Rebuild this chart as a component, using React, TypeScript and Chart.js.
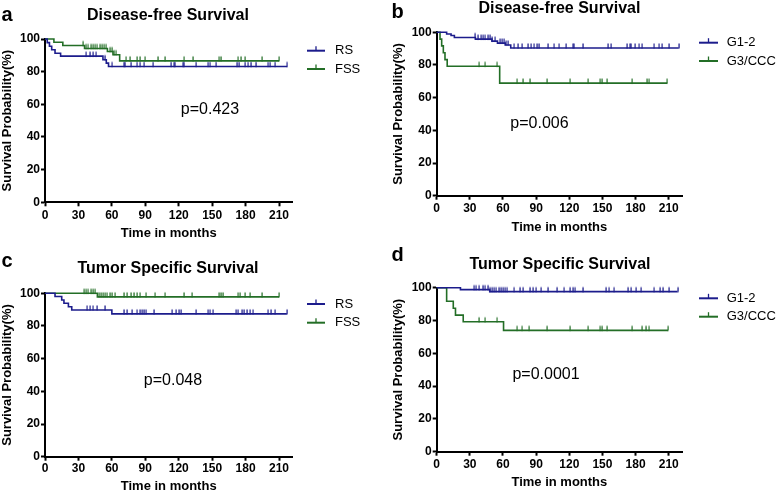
import React, { useEffect, useRef } from 'react';
import { Chart, registerables } from 'chart.js';

Chart.register(...registerables);

// ---------- axes ----------
const X_TICKS = [0, 30, 60, 90, 120, 150, 180, 210];
const Y_TICKS = [0, 20, 40, 60, 80, 100];
const X_MAX = 222;

// ---------- panel a : Disease-free survival, RS vs FSS ----------
const A_RS_TIME = [0, 2, 4, 6, 9, 14, 52, 55, 57];
const A_RS_SURV = [100, 97.8, 95.6, 93.4, 91.3, 89.5, 87.3, 85.2, 83.2];
const A_RS_CENS = [37, 40, 43, 46, 53.5, 60.5, 70.5, 72, 77, 83, 85.5, 89, 97, 113, 115.5, 117, 123.5, 125, 135.5, 146.5, 148.5, 153.5, 172, 174, 179.5, 182.5, 184.5, 189, 200.5, 202, 206.5, 217.5];
const A_FSS_TIME = [0, 8, 16, 35.5, 56, 61, 67];
const A_FSS_SURV = [100, 98, 96, 94.2, 92.3, 90.4, 86.6];
const A_FSS_CENS = [34, 37, 39, 41, 43, 45, 47, 49, 51, 53, 55, 58, 60, 62, 64, 73, 76, 82.5, 85, 90, 101, 107.5, 125, 132.5, 156.5, 157.5, 173.5, 175.5, 179.5, 194.5, 210];

// ---------- panel b : Disease-free survival, G1-2 vs G3/CCC ----------
const B_G12_TIME = [0, 9, 13, 16, 35, 50, 55, 62, 67];
const B_G12_SURV = [100, 99, 98, 96.8, 95.8, 94.6, 93.4, 92.2, 90.4];
const B_G12_CENS = [34.5, 37, 40, 42, 44, 46, 48, 50, 53, 57, 59, 61, 63, 64.5, 70.3, 73.3, 77.2, 82.3, 85.4, 88.4, 90.5, 92.3, 100.4, 106.5, 111, 117, 123, 124.6, 132, 154.8, 157.8, 172, 174.5, 176, 179.5, 183.4, 186, 197, 201.5, 204, 210, 219];
const B_G3_TIME = [0, 3, 4.5, 6, 7.5, 9.5, 57];
const B_G3_SURV = [100, 95.8, 91.7, 87.5, 83.3, 79.2, 68.9];
const B_G3_CENS = [38.5, 44, 55, 73, 77.8, 84, 99.7, 120.7, 137, 147.8, 149.3, 154, 176.7, 190, 192.5, 208.7];

// ---------- panel c : Tumor specific survival, RS vs FSS ----------
const C_RS_TIME = [0, 9, 15, 17, 21, 24, 60];
const C_RS_SURV = [100, 98, 95.9, 93.9, 91.8, 89.8, 87.4];
const C_RS_CENS = [38, 40.5, 43.5, 46.5, 53.5, 70.5, 73.5, 78, 83, 85, 87, 88.5, 91, 97.5, 114, 117.5, 120, 122, 135.5, 146.5, 148.5, 151, 171.5, 173.5, 176.5, 178.5, 181, 184, 187, 200.5, 202.5, 206.5, 217];
const C_FSS_TIME = [0, 47];
const C_FSS_SURV = [100, 97.8];
const C_FSS_CENS = [35, 37, 39, 41, 43, 45, 48.5, 50, 52, 54, 56, 58, 60, 63, 70.5, 73.5, 77, 79.5, 82.5, 85.5, 91, 99, 108, 124.5, 132, 156, 157.5, 159.5, 173.5, 175, 179.5, 184, 194.5, 210];

// ---------- panel d : Tumor specific survival, G1-2 vs G3/CCC ----------
const D_G12_TIME = [0, 21.5, 48];
const D_G12_SURV = [100, 98.8, 97.6];
const D_G12_CENS = [34, 36, 38.5, 41.5, 44, 46, 48.5, 50, 52, 54, 56, 58, 60, 62, 64, 70.3, 75, 78, 84, 87, 90, 94.4, 100.4, 108.6, 115.5, 120.5, 123.1, 125.5, 132, 153, 156.3, 160.8, 172.8, 175.9, 180.4, 184.9, 197, 202, 204.5, 210, 218];
const D_G3_TIME = [0, 9, 15, 17, 24, 60.5];
const D_G3_SURV = [100, 91.7, 87.5, 83.3, 79.2, 74.0];
const D_G3_CENS = [38, 44, 55, 73, 77.5, 83.5, 99.6, 120.5, 137, 148, 149.4, 154, 176.6, 185.5, 189, 192.5, 209.3];

// ---------- styling ----------
const BLUE = '#1c1c8c';
const GREEN = '#236e26';
const FONT = "'Liberation Sans', Arial, Helvetica, sans-serif";
const W = 389;
const H = 247;

type Series = { label: string; color: string; times: number[]; surv: number[]; cens: number[] };
type Panel = {
  key: string; left: number; top: number;
  letter: string; title: string; pText: string;
  L: number; R: number; T: number; B: number;
  yTitlePad: number; xTitlePad: number; xTickPad: number;
  letterX: number; letterY: number; titleX: number; titleY: number;
  pX: number; pY: number;
  legX1: number; legX2: number; legTextX: number; legRows: number[];
  series: Series[];
};

const PANELS: Panel[] = [
  {
    key: 'a', left: 0, top: 0, letter: 'a', title: 'Disease-free Survival', pText: 'p=0.423',
    L: 45, R: 292.4, T: 39, B: 202.3, yTitlePad: 0, xTitlePad: 6, xTickPad: 2,
    letterX: 1.5, letterY: 20.5, titleX: 168, titleY: 19.5, pX: 210, pY: 110,
    legX1: 307, legX2: 325, legTextX: 335, legRows: [50.7, 69],
    series: [
      { label: 'RS', color: BLUE, times: A_RS_TIME, surv: A_RS_SURV, cens: A_RS_CENS },
      { label: 'FSS', color: GREEN, times: A_FSS_TIME, surv: A_FSS_SURV, cens: A_FSS_CENS },
    ],
  },
  {
    key: 'b', left: 389, top: 0, letter: 'b', title: 'Disease-free Survival', pText: 'p=0.006',
    L: 47.7, R: 293, T: 32.3, B: 195.7, yTitlePad: 2, xTitlePad: 11.5, xTickPad: 2,
    letterX: 2.5, letterY: 18.3, titleX: 170.5, titleY: 12.7, pX: 150.5, pY: 124,
    legX1: 310, legX2: 329, legTextX: 337.7, legRows: [42.7, 61],
    series: [
      { label: 'G1-2', color: BLUE, times: B_G12_TIME, surv: B_G12_SURV, cens: B_G12_CENS },
      { label: 'G3/CCC', color: GREEN, times: B_G3_TIME, surv: B_G3_SURV, cens: B_G3_CENS },
    ],
  },
  {
    key: 'c', left: 0, top: 247, letter: 'c', title: 'Tumor Specific Survival', pText: 'p=0.048',
    L: 45, R: 292.4, T: 46.3, B: 209.7, yTitlePad: 0, xTitlePad: 0, xTickPad: 1,
    letterX: 1.5, letterY: 19.7, titleX: 168, titleY: 26.2, pX: 173, pY: 134,
    legX1: 307, legX2: 325, legTextX: 335, legRows: [57, 75.7],
    series: [
      { label: 'RS', color: BLUE, times: C_RS_TIME, surv: C_RS_SURV, cens: C_RS_CENS },
      { label: 'FSS', color: GREEN, times: C_FSS_TIME, surv: C_FSS_SURV, cens: C_FSS_CENS },
    ],
  },
  {
    key: 'd', left: 389, top: 247, letter: 'd', title: 'Tumor Specific Survival', pText: 'p=0.0001',
    L: 47.7, R: 293, T: 40.7, B: 204.7, yTitlePad: 2, xTitlePad: 4.2, xTickPad: 2,
    letterX: 2.5, letterY: 14, titleX: 171, titleY: 22.2, pX: 157, pY: 128,
    legX1: 310, legX2: 329, legTextX: 337.7, legRows: [51.3, 69.7],
    series: [
      { label: 'G1-2', color: BLUE, times: D_G12_TIME, surv: D_G12_SURV, cens: D_G12_CENS },
      { label: 'G3/CCC', color: GREEN, times: D_G3_TIME, surv: D_G3_SURV, cens: D_G3_CENS },
    ],
  },
];

function survivalAt(times: number[], surv: number[], t: number) {
  let s = surv[0];
  for (let i = 0; i < times.length; i++) if (times[i] <= t) s = surv[i];
  return s;
}

function curvePoints(s: Series) {
  const end = Math.max(s.times[s.times.length - 1], ...s.cens);
  const pts = s.times.map((t, i) => ({ x: t, y: s.surv[i] }));
  pts.push({ x: end, y: s.surv[s.surv.length - 1] });
  return pts;
}

function censorPoints(s: Series) {
  return s.cens.map((t) => ({ x: t, y: survivalAt(s.times, s.surv, t) }));
}

function tickImage(color: string) {
  const c = document.createElement('canvas');
  c.width = 2;
  c.height = 12;
  const g = c.getContext('2d')!;
  g.fillStyle = color;
  g.fillRect(0.5, 1.5, 1.2, 5);
  return c;
}

function makeTextPlugin(p: Panel) {
  return {
    id: 'panelText_' + p.key,
    afterDraw(chart: any) {
      const ctx = chart.ctx as CanvasRenderingContext2D;
      ctx.save();
      ctx.fillStyle = '#000';
      ctx.textBaseline = 'alphabetic';
      ctx.textAlign = 'left';
      ctx.font = `bold 20px ${FONT}`;
      ctx.fillText(p.letter, p.letterX, p.letterY);
      ctx.textAlign = 'center';
      ctx.font = `bold 16px ${FONT}`;
      ctx.fillText(p.title, p.titleX, p.titleY);
      ctx.textBaseline = 'middle';
      ctx.font = `16px ${FONT}`;
      ctx.fillText(p.pText, p.pX, p.pY);
      p.series.forEach((s, i) => {
        const y = p.legRows[i];
        ctx.strokeStyle = s.color;
        ctx.lineWidth = 2;
        ctx.beginPath();
        ctx.moveTo(p.legX1, y);
        ctx.lineTo(p.legX2, y);
        ctx.stroke();
        const mid = (p.legX1 + p.legX2) / 2;
        ctx.lineWidth = 1.3;
        ctx.beginPath();
        ctx.moveTo(mid, y);
        ctx.lineTo(mid, y - 4.5);
        ctx.stroke();
        ctx.fillStyle = '#000';
        ctx.textAlign = 'left';
        ctx.font = `13px ${FONT}`;
        ctx.fillText(s.label, p.legTextX, y);
      });
      ctx.restore();
    },
  };
}

function KMPanel({ p }: { p: Panel }) {
  const ref = useRef<HTMLCanvasElement | null>(null);
  useEffect(() => {
    if (!ref.current) return;
    const datasets: any[] = [];
    p.series.forEach((s) => {
      datasets.push({
        type: 'line',
        label: s.label,
        data: curvePoints(s),
        borderColor: s.color,
        backgroundColor: s.color,
        borderWidth: 1.6,
        pointRadius: 0,
        stepped: true,
        fill: false,
        clip: false,
        tension: 0,
      });
    });
    p.series.forEach((s) => {
      datasets.push({
        type: 'scatter',
        label: s.label + ' censored',
        data: censorPoints(s),
        pointStyle: tickImage(s.color),
        pointRadius: 3,
        borderColor: s.color,
        backgroundColor: s.color,
        showLine: false,
        clip: false,
      });
    });
    const chart = new Chart(ref.current, {
      type: 'line',
      data: { datasets },
      options: {
        responsive: false,
        maintainAspectRatio: false,
        animation: false,
        events: [],
        layout: { padding: { left: 0, top: p.T, right: W - p.R, bottom: 0 } },
        plugins: { legend: { display: false }, title: { display: false }, tooltip: { enabled: false } },
        scales: {
          x: {
            type: 'linear',
            min: 0,
            max: X_MAX,
            afterBuildTicks: (sc: any) => { sc.ticks = X_TICKS.map((v) => ({ value: v })); },
            afterFit: (sc: any) => { sc.height = H - p.B; },
            border: { display: true, color: '#000', width: 2 },
            grid: { display: true, drawOnChartArea: false, drawTicks: true, tickLength: 4, tickWidth: 2, tickColor: '#000', color: '#000' },
            ticks: { color: '#000', font: { family: FONT, size: 12, weight: 'bold' }, padding: p.xTickPad, maxRotation: 0, autoSkip: false },
            title: { display: true, text: 'Time in months', color: '#000', font: { family: FONT, size: 13, weight: 'bold' }, padding: { top: 0, bottom: p.xTitlePad } },
          },
          y: {
            type: 'linear',
            min: 0,
            max: 100,
            afterBuildTicks: (sc: any) => { sc.ticks = Y_TICKS.map((v) => ({ value: v })); },
            afterFit: (sc: any) => { sc.width = p.L; },
            border: { display: true, color: '#000', width: 2 },
            grid: { display: true, drawOnChartArea: false, drawTicks: true, tickLength: 4, tickWidth: 2, tickColor: '#000', color: '#000' },
            ticks: { color: '#000', font: { family: FONT, size: 12, weight: 'bold' }, padding: 1, autoSkip: false },
            title: { display: true, text: 'Survival Probability(%)', color: '#000', font: { family: FONT, size: 13, weight: 'bold' }, padding: { top: p.yTitlePad, bottom: 0 } },
          },
        },
      } as any,
      plugins: [makeTextPlugin(p)],
    });
    return () => chart.destroy();
  }, [p]);
  return (
    <canvas
      ref={ref}
      width={W}
      height={H}
      style={{ position: 'absolute', left: p.left, top: p.top, width: W, height: H }}
    />
  );
}

export default function App() {
  return (
    <div style={{ position: 'absolute', left: 0, top: 0, width: 778, height: 494, background: '#fff', fontFamily: FONT }}>
      {PANELS.map((p) => (
        <KMPanel key={p.key} p={p} />
      ))}
    </div>
  );
}
